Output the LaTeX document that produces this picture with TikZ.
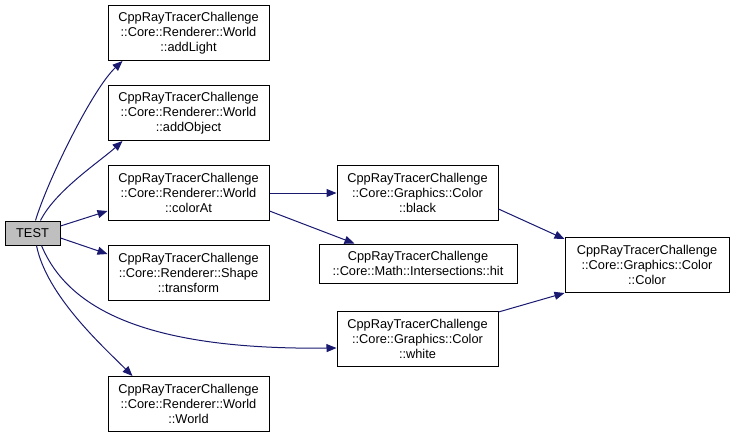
\documentclass[tikz,border=0pt]{standalone}
\usepackage{fontspec}
\setmainfont{Liberation Sans}
\usetikzlibrary{arrows.meta,positioning}
\definecolor{EdgeBlue}{HTML}{191970}
\definecolor{NodeGray}{HTML}{BFBFBF}

\begin{document}
\begin{tikzpicture}[x=1pt, y=1pt, every node/.style={font=\fontsize{12.8}{15}\selectfont, align=center}, fn/.style={draw=black, line width=1pt, fill=white, minimum width=161pt, minimum height=55pt, inner sep=2pt}, edge/.style={-{Triangle[length=10pt,width=8pt]}, line width=1pt, EdgeBlue}]
        \useasboundingbox (0,0) rectangle (732,-437);
        \node[fn, fill=NodeGray, minimum width=55pt, minimum height=24pt] (test) at (32.5,-233) {TEST};
        \node[fn] (addlight) at (188.5,-33) {CppRayTracerChallenge\\::Core::Renderer::World\\::addLight};
        \node[fn, below=24pt of addlight] (addobject) {CppRayTracerChallenge\\::Core::Renderer::World\\::addObject};
        \node[fn, below=24pt of addobject] (colorat) {CppRayTracerChallenge\\::Core::Renderer::World\\::colorAt};
        \node[fn, below=24pt of colorat] (transform) {CppRayTracerChallenge\\::Core::Renderer::Shape\\::transform};
        \node[fn, below=75pt of transform] (world) {CppRayTracerChallenge\\::Core::Renderer::World\\::World};
        \node[fn, right=67pt of colorat] (black) {CppRayTracerChallenge\\::Core::Graphics::Color\\::black};
        \node[fn, minimum width=198pt, minimum height=39pt] (hit) at (418,-263.5) {CppRayTracerChallenge\\::Core::Math::Intersections::hit};
        \node[fn] (white) at (417.5,-339) {CppRayTracerChallenge\\::Core::Graphics::Color\\::white};
        \node[fn, minimum width=164pt] (color) at (647,-265) {CppRayTracerChallenge\\::Core::Graphics::Color\\::Color};

        \draw[edge] ([xshift=3pt]test.north) .. controls +(12,40) and +(-30,-28) .. ([xshift=15pt]addlight.south west);
        \draw[edge] ([xshift=8pt]test.north) .. controls +(15,30) and +(-22,-20) .. ([xshift=15pt]addobject.south west);
        \draw[edge] ([yshift=7pt]test.east) -- ([yshift=-18pt]colorat.west);
        \draw[edge] ([yshift=-5pt]test.east) -- ([yshift=19pt]transform.west);
        \draw[edge] ([xshift=4pt]test.south) .. controls +(10,-50) and +(-30,30) .. ([xshift=25pt]world.north west);
        \draw[edge] ([xshift=9pt]test.south) .. controls +(27,-65) and +(-187,-2) .. ([yshift=-9pt]white.west);
        \draw[edge] (colorat.east) -- (colorat.east -| black.west);
        \draw[edge] ([yshift=-18pt]colorat.east) -- ([xshift=36pt]hit.north west);
        \draw[edge] ([yshift=-16pt]black.east) -- ([yshift=-2pt]color.north west);
        \draw[edge] ([yshift=-1pt]white.north east) -- (color.south west);
    \end{tikzpicture}
\end{document}
